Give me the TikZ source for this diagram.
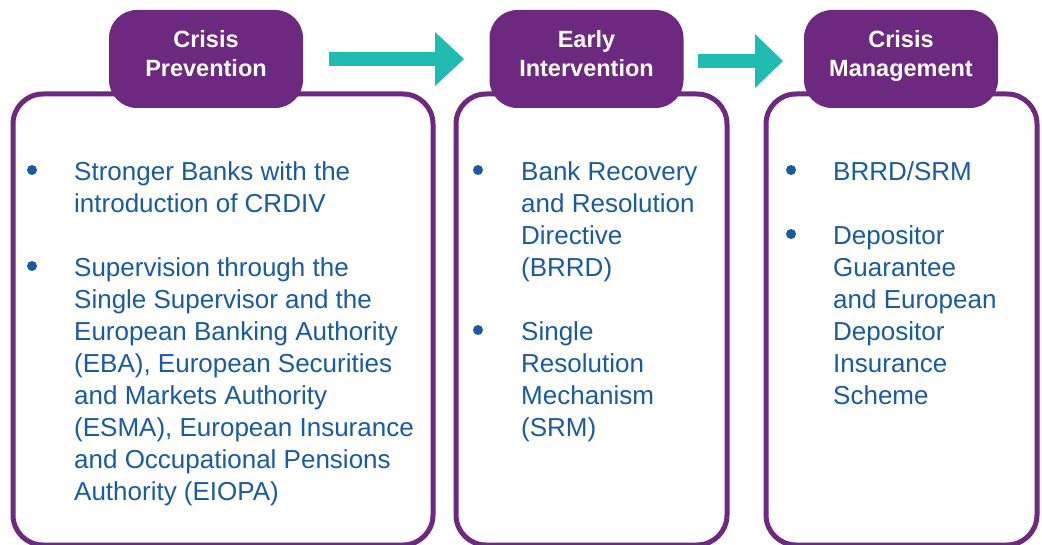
\documentclass[tikz,border=0pt]{standalone}
\usepackage{fontspec}
\setmainfont{Liberation Sans}
\usetikzlibrary{calc}
\definecolor{phasepurple}{HTML}{6D2880}
\definecolor{flowteal}{HTML}{20BBB1}
\definecolor{itemblue}{HTML}{1A5AA5}
\tikzset{
  panel/.style={draw=phasepurple, line width=5pt, rounded corners=30pt,
    fill=white, inner sep=0pt, anchor=north west},
  hdr/.style={fill=phasepurple, rounded corners=28pt, inner sep=0pt,
    minimum width=194pt, minimum height=98pt},
  hdrtext/.style={text=white, font=\bfseries\fontsize{23.5}{29}\selectfont,
    align=center, inner sep=0pt, anchor=north},
  itemtext/.style={text=itemblue, font=\fontsize{26}{32}\selectfont,
    align=left, inner sep=0pt, anchor=north west},
  bulletdot/.style={circle, fill=itemblue, inner sep=0pt, minimum size=10pt},
  flow/.style={fill=flowteal}
}
\begin{document}
\begin{tikzpicture}[x=1pt,y=-1pt]
\useasboundingbox (0,0) rectangle (1042,545);

% outlined panels
\node[panel, minimum width=420pt, minimum height=451pt] (p1) at (10.5,91.5) {};
\node[panel, minimum width=271pt, minimum height=451pt] (p2) at (453.5,91.5) {};
\node[panel, minimum width=271pt, minimum height=451pt] (p3) at (763.5,91.5) {};

% phase headers
\node[hdr] (h1) at (206,59) {};
\node[hdr] (h2) at (586.5,59) {};
\node[hdr] (h3) at (901,59) {};
\node[hdrtext] (h1t) at (206,26.7) {\strut Crisis\\Prevention};
\node[hdrtext] (h2t) at (586.5,26.7) {\strut Early\\Intervention};
\node[hdrtext] (h3t) at (901,26.7) {\strut Crisis\\Management};

% flow arrows between the headers
\coordinate (a1s) at (329,59);
\coordinate (a1e) at (464,59);
\coordinate (a2s) at (698,61);
\coordinate (a2e) at (783,61);
\fill[flow] ($(a1s)+(0,-7)$) -- ($(a1e)+(-29,-7)$) -- ($(a1e)+(-29,-27)$) -- (a1e)
  -- ($(a1e)+(-29,27)$) -- ($(a1e)+(-29,7)$) -- ($(a1s)+(0,7)$) -- cycle;
\fill[flow] ($(a2s)+(0,-7)$) -- ($(a2e)+(-28,-7)$) -- ($(a2e)+(-28,-27)$) -- (a2e)
  -- ($(a2e)+(-28,27)$) -- ($(a2e)+(-28,7)$) -- ($(a2s)+(0,7)$) -- cycle;

% crisis prevention
\node[bulletdot] (b11) at (32,170) {};
\node[itemtext] (t11) at (74,157.6) {\strut Stronger Banks with the\\introduction of CRDIV};
\node[bulletdot] (b12) at (32,266) {};
\node[itemtext] (t12) at (74,253.6) {\strut Supervision through the\\Single Supervisor and the\\European Banking Authority\\(EBA), European Securities\\and Markets Authority\\(ESMA), European Insurance\\and Occupational Pensions\\Authority (EIOPA)};

% early intervention
\node[bulletdot] (b21) at (478,170) {};
\node[itemtext] (t21) at (521,157.6) {\strut Bank Recovery\\and Resolution\\Directive\\(BRRD)};
\node[bulletdot] (b22) at (478,330) {};
\node[itemtext] (t22) at (521,317.6) {\strut Single\\Resolution\\Mechanism\\(SRM)};

% crisis management
\node[bulletdot] (b31) at (791,170) {};
\node[itemtext] (t31) at (833,157.6) {\strut BRRD/SRM};
\node[bulletdot] (b32) at (791,234) {};
\node[itemtext] (t32) at (833,221.6) {\strut Depositor\\Guarantee\\and European\\Depositor\\Insurance\\Scheme};
\end{tikzpicture}
\end{document}
